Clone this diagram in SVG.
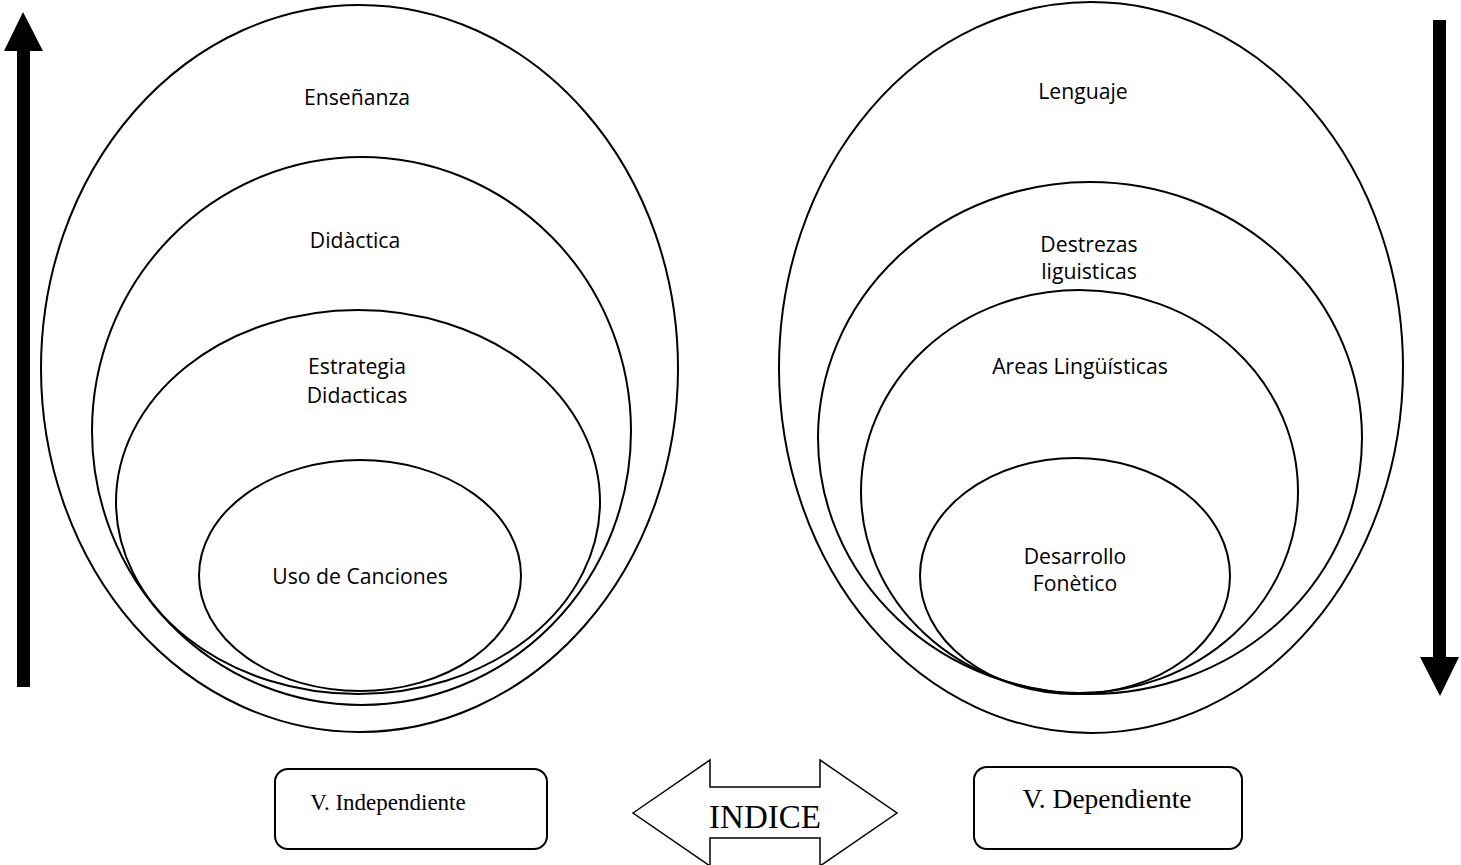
<svg xmlns="http://www.w3.org/2000/svg" width="1461" height="865" viewBox="0 0 1461 865">
<style>
.ell{fill:none;stroke:#000;stroke-width:2}
.lbl{font-family:"Open Sans","Noto Sans",sans-serif;font-size:21.2px;fill:#000;text-anchor:middle}
.box{fill:#fff;stroke:#000;stroke-width:2}
.ser{font-family:"Liberation Serif","Times New Roman",serif;fill:#000;text-anchor:middle}
.arr{fill:#000;stroke:none}
</style>
<rect width="1461" height="865" fill="#fff"/>
<g id="connectors">
<polygon class="arr" points="17,687 30,687 30,51 43,51 23,12 4,51 17,51"/>
<polygon class="arr" points="1433,20 1446,20 1446,657 1459,657 1440,696 1420,657 1433,657"/>
</g>
<g id="left-enseñanza"><ellipse class="ell" cx="359.5" cy="368.5" rx="318.5" ry="363.5"/><text class="lbl" x="357" y="105">Enseñanza</text></g>
<g id="left-didactica"><ellipse class="ell" cx="361.5" cy="431" rx="269.5" ry="274"/><text class="lbl" x="355" y="248">Didàctica</text></g>
<g id="left-estrategia"><ellipse class="ell" cx="358" cy="502" rx="242" ry="192"/><text class="lbl" x="357" y="374">Estrategia</text><text class="lbl" x="357" y="403">Didacticas</text></g>
<g id="left-uso"><ellipse class="ell" cx="360" cy="575.5" rx="161" ry="115.5"/><text class="lbl" x="360" y="584">Uso de Canciones</text></g>
<g id="right-lenguaje"><ellipse class="ell" cx="1091" cy="367.5" rx="312" ry="365.5"/><text class="lbl" x="1083" y="99">Lenguaje</text></g>
<g id="right-destrezas"><ellipse class="ell" cx="1090" cy="438" rx="272" ry="256"/><text class="lbl" x="1089" y="252">Destrezas</text><text class="lbl" x="1089" y="279">liguisticas</text></g>
<g id="right-areas"><ellipse class="ell" cx="1079.5" cy="491.5" rx="218.5" ry="201.5"/><text class="lbl" x="1080" y="374">Areas Lingüísticas</text></g>
<g id="right-desarrollo"><ellipse class="ell" cx="1075" cy="576" rx="155" ry="118"/><text class="lbl" x="1075" y="564">Desarrollo</text><text class="lbl" x="1075" y="591">Fonètico</text></g>
<g id="v-independiente"><rect class="box" x="275" y="769" width="272" height="80" rx="13"/><text class="ser" x="388" y="810" font-size="23">V. Independiente</text></g>
<g id="indice"><polygon fill="#fff" stroke="#000" stroke-width="1.5" points="633,813 710,760 710,787 820,787 820,760 897,813 820,866 820,838 710,838 710,866"/><text class="ser" x="765" y="828" font-size="33">INDICE</text></g>
<g id="v-dependiente"><rect class="box" x="974" y="767" width="268" height="82" rx="13"/><text class="ser" x="1107" y="808" font-size="27.5">V. Dependiente</text></g>
</svg>
